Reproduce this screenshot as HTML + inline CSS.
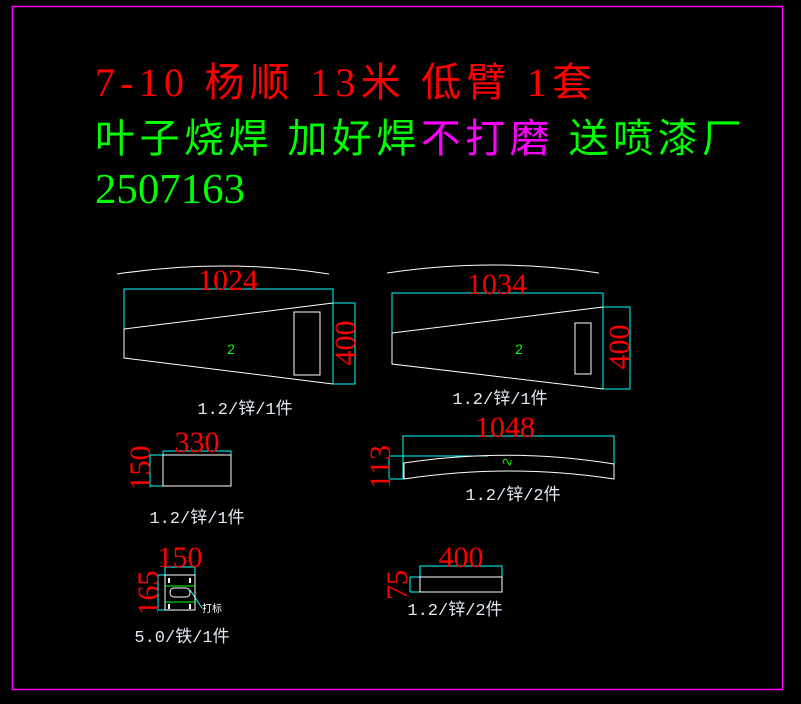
<!DOCTYPE html>
<html><head><meta charset="utf-8"><style>
html,body{margin:0;padding:0;background:#000;}
svg{display:block;}
.t{font-family:"Liberation Serif","Noto Sans CJK SC",serif;}
.d{font-family:"Liberation Serif",serif;fill:#ff0000;font-size:30px;}
.l{font-family:"Liberation Mono","Noto Sans CJK SC",monospace;fill:#dfe8f0;font-size:17px;}
</style></head><body>
<svg width="801" height="704" viewBox="0 0 801 704" xmlns="http://www.w3.org/2000/svg">
<rect x="0" y="0" width="801" height="704" fill="#000"/>
<rect x="12.5" y="6.5" width="770" height="683" fill="none" stroke="#ff00ff" stroke-width="1.5"/>

<text class="t" x="95" y="96" font-size="40" fill="#ff0000" textLength="497" lengthAdjust="spacing">7-10 杨顺 13米 低臂 1套</text>
<text class="t" x="95" y="152" font-size="40" fill="#00ff00" textLength="647" lengthAdjust="spacing">叶子烧焊 加好焊<tspan fill="#ff00ff">不打磨</tspan> 送喷漆厂</text>
<text class="t" x="95" y="203" font-size="42" fill="#00ff00" textLength="150" lengthAdjust="spacingAndGlyphs">2507163</text>

<g fill="none" stroke-width="1">
<path d="M117,274 Q223,258 329,274" stroke="#fff"/>
<path d="M124,330 V289 H333 V384 M333,303 H355 V384 H333" stroke="#00ffff"/>
<path d="M124,329 L333,303 M124,329 V358 L333,384 M294,312 H320 V375 H294 Z" stroke="#fff"/>
<path d="M387,273 Q493,257 599,273" stroke="#fff"/>
<path d="M392,338 V293 H603 V389 M603,307 H630 V389 H603" stroke="#00ffff"/>
<path d="M392,333 L603,307 M392,333 V364 L603,389 M575,323 H591 V374 H575 Z" stroke="#fff"/>
<path d="M163,451 H231 V455 M163,451 V455 M150,455 H163 M150,486 H163 M150,455 V486" stroke="#00ffff"/>
<rect x="163" y="455" width="68" height="31" stroke="#fff"/>
<path d="M403,479 V436 H614 V465 M389,456 H488 M389,479 H403 M389,456 V479" stroke="#00ffff"/>
<path d="M404,463 Q510,447 614,464 V479 Q510,463 404,479 Z" stroke="#fff"/>
<path d="M165,575 V567 H195 V575 M158,575 H165 M158,610 H165 M158,575 V610 M190,590 L202,608" stroke="#00ffff"/>
<rect x="165" y="575" width="30" height="35" stroke="#fff"/>
<path d="M165,586 H195 M165,602 H195" stroke="#00ff00"/>
<rect x="170" y="588" width="20" height="9" rx="4" stroke="#fff"/>
<path d="M169,578 v5 M190,578 v5 M169,604 v5 M190,604 v5" stroke="#fff" stroke-width="2"/>
<path d="M420,577 V566 H502 V577 M410,577 H420 M410,592 H420 M410,577 V592" stroke="#00ffff"/>
<rect x="420" y="577" width="82" height="15" stroke="#fff"/>
</g>

<text x="231" y="354" font-family="Liberation Sans" font-size="14" fill="#00ff00" text-anchor="middle">2</text>
<text x="519" y="354" font-family="Liberation Sans" font-size="14" fill="#00ff00" text-anchor="middle">2</text>
<text x="511" y="463" font-family="Liberation Sans" font-size="12" fill="#00ff00" text-anchor="middle" transform="rotate(-75 511 463)">2</text>

<text class="d" x="228" y="290" text-anchor="middle">1024</text>
<text class="d" x="497" y="294" text-anchor="middle">1034</text>
<text class="d" x="197" y="452" text-anchor="middle">330</text>
<text class="d" x="505" y="437" text-anchor="middle">1048</text>
<text class="d" x="180" y="567" text-anchor="middle">150</text>
<text class="d" x="461" y="567" text-anchor="middle">400</text>
<g transform="translate(345,343) rotate(-90)"><text class="d" x="0" y="10" text-anchor="middle">400</text></g>
<g transform="translate(619,347) rotate(-90)"><text class="d" x="0" y="10" text-anchor="middle">400</text></g>
<g transform="translate(140,468) rotate(-90)"><text class="d" x="0" y="10" text-anchor="middle">150</text></g>
<g transform="translate(380,467) rotate(-90)"><text class="d" x="0" y="10" text-anchor="middle">113</text></g>
<g transform="translate(148,593) rotate(-90)"><text class="d" x="0" y="10" text-anchor="middle">165</text></g>
<g transform="translate(397,585) rotate(-90)"><text class="d" x="0" y="10" text-anchor="middle">75</text></g>

<text x="202" y="612" font-family="Noto Sans CJK SC" font-size="10" fill="#fff">打标</text>

<text class="l" x="245" y="414" text-anchor="middle">1.2/锌/1件</text>
<text class="l" x="500" y="404" text-anchor="middle">1.2/锌/1件</text>
<text class="l" x="197" y="523" text-anchor="middle">1.2/锌/1件</text>
<text class="l" x="513" y="500" text-anchor="middle">1.2/锌/2件</text>
<text class="l" x="182" y="642" text-anchor="middle">5.0/铁/1件</text>
<text class="l" x="455" y="615" text-anchor="middle">1.2/锌/2件</text>
</svg>
</body></html>
